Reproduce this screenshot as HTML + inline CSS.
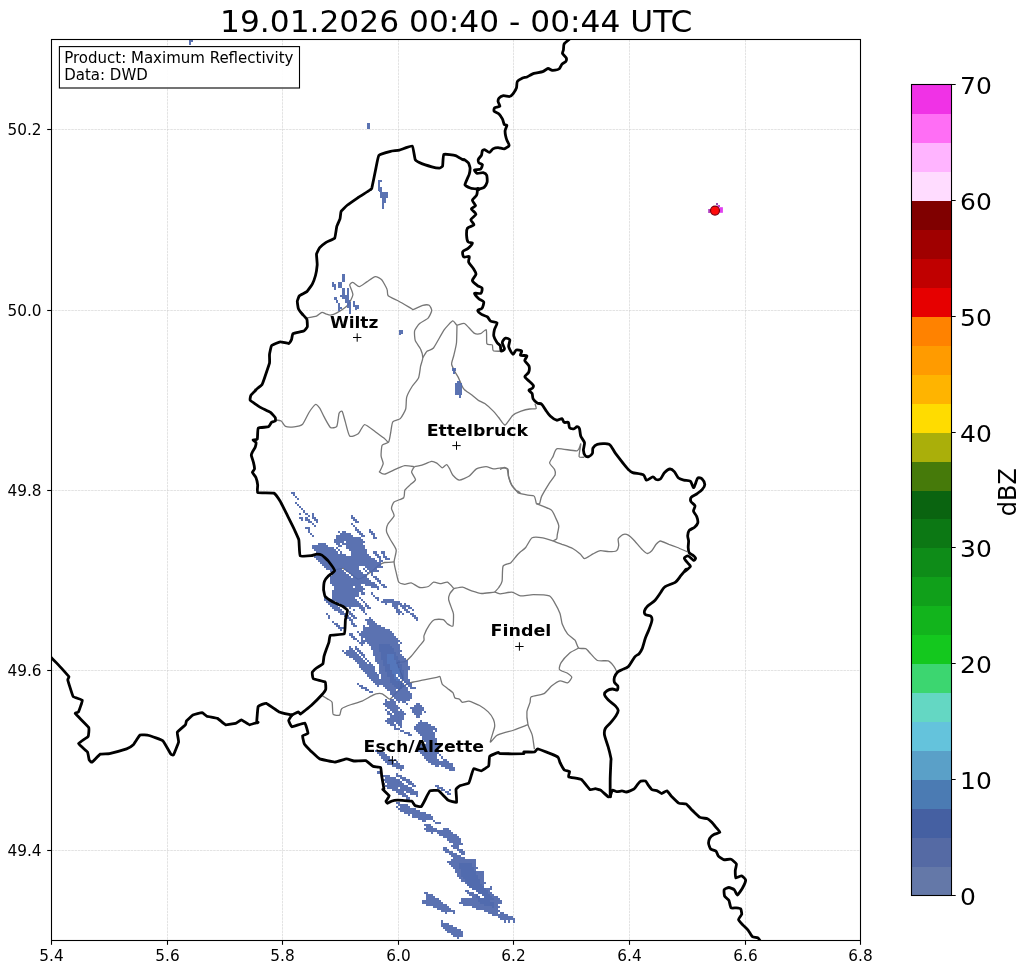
<!DOCTYPE html>
<html><head><meta charset="utf-8"><title>Radar</title>
<style>
html,body{margin:0;padding:0;background:#fff;}
body{width:1029px;height:973px;overflow:hidden;}
svg{display:block;}
text{font-family:"DejaVu Sans","Liberation Sans",sans-serif;fill:#000;}
.tk{font-size:15.3px;}
.cb{font-size:23.8px;}
.city{font-size:16.67px;font-weight:bold;}
</style></head><body>
<svg width="1029" height="973" viewBox="0 0 1029 973">
<rect width="1029" height="973" fill="#fff"/>
<defs><clipPath id="ax"><rect x="51.5" y="39.5" width="809.0" height="901.0"/></clipPath></defs>

<g stroke="#b0b0b0" stroke-width="0.6" stroke-dasharray="2.5,0.8" opacity="0.6" fill="none">
<path d="M167.5,39.5 V940.5"/>
<path d="M282.5,39.5 V940.5"/>
<path d="M398.5,39.5 V940.5"/>
<path d="M513.5,39.5 V940.5"/>
<path d="M629.5,39.5 V940.5"/>
<path d="M745.5,39.5 V940.5"/>
<path d="M51.5,129.5 H860.5"/>
<path d="M51.5,310.5 H860.5"/>
<path d="M51.5,490.5 H860.5"/>
<path d="M51.5,670.5 H860.5"/>
<path d="M51.5,850.5 H860.5"/>
</g>
<g clip-path="url(#ax)" fill="none" stroke="#767676" stroke-width="1.3" stroke-linejoin="round">
<path d="M306.9,317.9C307.9,317.7 315.0,316.7 316.5,316.1C318.0,315.5 320.9,312.5 321.9,312.3C322.9,312.1 325.2,313.7 326.1,314.0C327.0,314.3 329.3,315.2 330.4,315.1C331.5,315.0 335.1,313.9 336.8,312.9C338.5,311.9 345.9,307.3 347.5,305.5C349.1,303.7 352.7,296.8 352.9,294.8C353.1,292.8 349.7,286.3 349.7,285.1C349.7,283.9 351.9,282.2 352.9,282.4C353.9,282.5 357.9,286.7 359.3,286.6C360.7,286.6 365.2,282.9 366.8,281.9C368.4,280.9 373.8,276.8 375.3,276.6C376.8,276.4 380.5,278.5 381.7,279.8C382.9,281.1 386.5,287.8 387.1,289.4C387.8,291.0 387.0,294.6 388.2,295.8C389.4,297.0 396.4,299.9 398.8,301.2C401.2,302.5 410.3,307.9 411.7,308.7C413.1,309.5 412.0,309.9 413.1,309.6C414.2,309.3 421.2,305.7 422.8,305.3C424.4,304.9 428.3,304.8 429.2,305.3C430.1,305.8 431.8,309.3 431.7,310.6C431.6,311.9 429.3,316.8 428.1,318.1C426.9,319.4 421.0,322.2 419.6,323.5C418.2,324.8 415.0,329.2 414.6,330.9C414.2,332.6 414.7,338.8 415.3,340.6C415.9,342.4 419.9,347.4 420.6,349.1C421.4,350.8 422.8,356.0 422.8,357.7C422.8,359.4 421.0,364.2 420.6,366.2C420.2,368.2 419.4,376.0 418.5,378.0C417.6,380.0 413.3,384.6 412.1,386.5C410.9,388.4 407.3,394.9 406.7,397.2C406.1,399.4 406.3,406.9 405.7,409.0C405.1,411.1 401.6,417.3 400.3,418.6C399.0,419.9 393.8,420.4 392.8,421.8C391.8,423.2 391.1,430.5 390.7,432.5C390.3,434.5 389.5,440.8 388.6,442.1C387.7,443.4 382.9,443.9 382.1,445.3C381.4,446.7 381.0,454.2 381.1,456.0C381.2,457.8 383.3,462.0 383.2,463.5C383.1,465.0 380.4,470.1 380.0,471.0C379.6,471.9 379.1,471.8 379.5,472.1C379.9,472.4 383.0,474.4 384.5,474.2C386.0,474.0 392.1,470.8 394.1,469.9C396.1,469.0 402.8,466.0 404.8,465.7C406.8,465.4 413.4,466.6 414.4,466.7"/>
<path d="M422.8,357.7C423.2,357.1 425.9,352.2 427.0,351.2C428.1,350.2 431.8,350.1 433.5,348.0C435.2,345.9 442.2,332.6 444.1,329.9C446.0,327.2 451.4,321.4 452.7,320.9C454.0,320.4 455.8,324.9 457.0,325.2C458.2,325.5 462.8,322.7 464.5,323.5C466.2,324.3 472.5,332.1 474.1,333.1C475.7,334.1 479.3,334.0 480.5,333.7C481.7,333.4 485.7,328.9 486.3,329.9C486.9,330.9 486.3,342.3 486.9,343.8C487.5,345.3 491.7,344.1 492.3,344.8C492.9,345.5 492.3,350.2 493.3,350.8C494.3,351.4 501.0,351.2 501.9,351.2"/>
<path d="M457.0,325.2C456.9,326.9 456.8,339.7 456.5,342.7C456.2,345.7 454.3,353.4 453.8,355.5C453.3,357.6 451.5,362.5 451.6,364.1C451.7,365.7 454.2,370.3 454.8,371.6C455.4,372.9 457.2,375.4 458.0,376.9C458.8,378.4 461.7,385.2 462.3,386.5C462.9,387.8 463.5,388.8 464.5,389.7C465.5,390.6 470.5,394.0 471.9,395.1C473.3,396.2 477.1,399.5 478.4,400.4C479.7,401.2 483.3,402.5 484.8,403.6C486.3,404.7 491.9,409.7 493.3,411.1C494.7,412.5 497.5,416.1 498.7,417.5C499.9,418.9 503.7,425.2 505.1,425.0C506.5,424.8 511.0,416.8 512.6,415.4C514.2,414.0 519.4,411.7 521.1,411.1C522.8,410.5 528.2,409.2 529.7,409.0C531.2,408.8 535.6,409.1 536.1,408.6C536.6,408.1 535.1,404.1 535.0,403.6"/>
<path d="M414.4,466.7C415.1,466.6 420.2,465.7 421.9,465.2C423.6,464.7 430.0,461.6 431.5,461.4C433.0,461.2 435.7,462.5 436.8,463.1C437.9,463.7 441.2,467.7 442.2,467.8C443.2,467.9 445.8,464.5 446.5,464.6C447.2,464.7 449.1,467.8 449.7,468.9C450.3,470.0 451.9,474.2 452.9,475.3C453.9,476.4 457.7,480.1 459.3,480.2C460.9,480.3 467.2,477.4 468.9,476.3C470.6,475.2 474.7,469.9 476.4,468.9C478.1,467.9 484.3,466.7 486.0,466.7C487.7,466.7 492.0,468.8 493.5,468.9C495.0,469.0 499.6,467.8 501.0,467.8C502.4,467.8 506.2,468.0 507.0,468.9C507.8,469.8 508.0,474.7 508.5,476.3C509.0,477.9 510.9,483.5 511.7,484.9C512.5,486.3 515.2,489.4 516.0,490.2C516.8,490.9 519.8,492.1 520.0,492.4C520.2,492.7 517.4,492.6 518.2,492.9C519.0,493.2 526.2,494.8 527.8,495.1C529.4,495.4 533.4,495.2 534.2,496.1C535.1,497.0 536.1,502.9 536.3,503.6"/>
<path d="M500.0,469.4C500.4,469.2 503.5,467.3 504.3,467.3C505.1,467.3 507.7,468.4 508.1,469.4C508.5,470.4 508.2,475.3 508.6,476.9C509.0,478.5 510.8,483.9 511.8,485.5C512.8,487.1 517.6,492.2 518.2,492.9"/>
<path d="M414.4,466.7C414.1,467.2 411.5,470.8 411.6,472.1C411.7,473.4 415.6,478.3 415.5,479.6C415.4,480.9 411.2,483.8 410.1,484.9C409.0,486.0 405.4,488.9 404.8,490.2C404.2,491.5 404.8,496.5 403.7,497.7C402.6,498.9 395.3,500.9 394.1,502.0C392.9,503.1 391.5,507.0 391.5,508.4C391.5,509.8 394.5,514.3 394.1,515.9C393.7,517.5 388.4,522.9 387.7,524.5C386.9,526.1 386.3,530.3 386.6,531.9C386.9,533.5 389.9,538.7 390.9,540.5C391.9,542.3 395.9,548.0 396.2,550.1C396.5,552.2 394.1,559.6 394.1,561.9C394.1,564.1 395.7,570.6 396.2,572.6C396.7,574.6 397.9,581.0 398.8,582.2C399.7,583.4 403.6,584.2 404.8,584.3C406.0,584.4 409.7,582.5 411.2,582.8C412.7,583.1 418.0,587.1 419.7,587.5C421.4,587.9 426.9,587.0 428.3,586.5C429.7,586.0 432.3,582.5 433.6,582.2C434.9,581.9 439.7,583.7 441.1,583.7C442.5,583.7 446.2,581.7 447.5,582.2C448.8,582.7 453.3,588.0 453.9,588.6"/>
<path d="M394.1,561.9C393.1,562.0 386.0,562.2 384.5,562.5C383.0,562.8 380.3,564.3 379.1,565.1C377.9,565.9 374.2,569.2 372.7,570.4C371.2,571.6 365.6,575.9 364.1,576.8C362.6,577.7 359.2,579.4 357.7,579.0C356.2,578.6 350.7,573.7 349.2,572.6C347.7,571.5 344.2,568.6 342.8,568.3C341.4,568.0 336.1,569.8 335.3,570.0"/>
<path d="M453.9,588.6C454.8,588.5 460.8,586.9 462.5,587.1C464.2,587.3 469.1,590.1 471.0,590.7C472.9,591.3 479.3,593.4 481.7,593.5C484.1,593.6 492.8,592.2 494.6,592.2C496.5,592.2 498.5,593.8 500.2,593.8C501.9,593.8 509.9,591.9 511.9,592.1C513.9,592.3 518.4,595.6 520.5,595.9C522.6,596.1 530.4,594.6 533.3,594.6C536.2,594.6 547.3,595.1 549.4,595.9C551.5,596.7 553.6,601.0 554.7,602.8C555.8,604.6 559.2,611.4 560.0,613.5C560.8,615.6 561.5,622.1 562.2,624.1C563.0,626.1 566.2,632.2 567.5,633.8C568.8,635.4 573.9,638.8 575.0,640.2C576.1,641.6 577.5,647.2 578.6,648.1C579.7,649.0 584.5,648.1 585.7,648.7C586.9,649.3 589.8,652.9 591.0,654.1C592.2,655.3 595.8,659.8 597.5,660.5C599.2,661.2 606.6,660.4 608.2,660.9C609.8,661.4 612.6,664.7 613.5,665.8C614.4,666.9 616.7,671.1 616.7,672.3C616.7,673.5 613.8,677.1 613.5,677.6"/>
<path d="M494.6,592.2C495.0,591.7 498.1,588.6 498.8,587.5C499.6,586.4 501.7,583.2 502.1,581.1C502.5,579.0 502.2,567.9 503.1,566.1C504.0,564.3 509.3,563.9 510.6,562.9C511.9,561.9 515.1,557.6 516.0,556.5C516.9,555.4 519.0,553.2 520.0,552.3C521.0,551.4 524.5,549.0 525.7,547.5C526.9,546.0 530.4,538.8 532.1,537.8C533.8,536.8 540.7,537.5 542.8,537.8C544.9,538.1 552.4,540.7 553.5,541.0"/>
<path d="M536.3,503.6C536.6,503.6 539.1,504.4 539.6,503.6C540.1,502.9 540.7,498.1 541.7,496.1C542.7,494.1 547.9,485.4 549.2,483.3C550.6,481.2 554.7,476.2 555.2,474.8C555.7,473.4 555.1,470.6 554.5,469.4C553.9,468.2 549.8,464.3 549.6,463.0C549.5,461.7 552.2,458.0 553.0,456.6C553.8,455.2 554.9,449.3 557.3,448.7C559.7,448.1 574.6,451.3 577.0,450.8C579.4,450.3 580.6,443.2 580.8,443.8C581.0,444.4 578.7,455.3 579.1,456.6C579.5,457.9 584.0,457.1 584.5,457.2"/>
<path d="M536.3,503.6C537.8,504.2 549.3,508.5 551.3,510.0C553.3,511.5 555.2,517.0 556.0,518.6C556.8,520.2 558.7,524.5 558.8,526.1C558.9,527.7 557.5,533.3 557.3,534.6C557.1,535.9 557.1,538.3 556.7,538.9C556.3,539.5 553.0,540.5 553.5,541.0C554.0,541.5 560.1,543.5 562.0,544.3C563.9,545.0 570.9,547.5 572.7,548.5C574.5,549.5 579.0,552.9 580.2,553.9C581.4,554.9 583.2,558.6 584.5,558.6C585.8,558.6 591.4,554.7 593.0,553.9C594.6,553.1 598.9,550.9 600.5,550.7C602.1,550.5 607.4,551.7 609.0,551.7C610.6,551.7 615.5,551.3 616.5,550.7C617.5,550.1 618.5,546.5 618.7,545.3C618.9,544.1 617.8,540.0 618.2,538.9C618.6,537.8 621.9,535.0 622.9,534.6C623.9,534.2 627.1,534.5 628.3,535.1C629.5,535.7 633.3,539.5 634.7,541.0C636.1,542.5 640.9,548.4 642.2,549.6C643.5,550.9 646.5,553.4 647.5,553.5C648.5,553.6 650.9,551.6 651.8,550.7C652.7,549.8 655.2,545.3 656.1,544.3C657.0,543.3 659.1,541.0 660.4,541.0C661.7,541.0 667.2,543.6 668.9,544.3C670.6,544.9 675.7,546.8 677.5,547.5C679.3,548.2 686.1,551.3 687.1,551.7"/>
<path d="M453.9,588.6C453.5,589.1 450.2,592.8 449.7,593.9C449.2,595.0 448.4,597.8 448.6,599.3C448.8,600.8 451.3,607.4 451.8,608.9C452.3,610.4 453.4,612.6 453.5,614.3C453.6,616.0 453.5,625.0 452.9,626.0C452.3,627.0 448.5,624.5 447.5,623.9C446.5,623.3 444.6,620.0 443.3,619.6C442.0,619.2 436.1,619.1 434.7,619.6C433.3,620.1 430.5,623.3 429.4,624.9C428.3,626.5 424.5,634.1 424.0,635.6C423.5,637.1 424.4,639.3 424.0,640.3C423.6,641.3 421.0,644.1 419.7,645.7C418.4,647.3 412.7,654.7 411.2,656.3C409.7,657.9 406.2,661.1 404.8,661.7C403.4,662.4 397.8,662.0 397.3,662.8C396.8,663.5 398.9,667.7 399.4,669.2C399.9,670.7 402.5,675.8 402.6,677.7C402.7,679.6 400.7,687.3 400.5,688.4"/>
<path d="M322.5,695.9C323.0,696.2 326.8,698.5 327.8,699.1C328.8,699.7 331.6,700.8 332.1,702.3C332.6,703.8 332.4,712.8 333.1,714.1C333.9,715.4 338.7,715.6 339.6,715.1C340.5,714.6 340.5,709.8 341.7,708.7C342.9,707.6 349.3,705.2 351.3,704.5C353.3,703.8 360.0,702.1 362.0,701.2C364.0,700.3 370.2,696.6 371.6,695.9C373.0,695.2 374.8,694.0 375.9,693.8C377.0,693.6 380.9,693.3 382.3,693.8C383.7,694.3 388.4,699.2 389.8,699.1C391.2,699.0 395.1,693.8 396.2,692.7C397.3,691.6 399.4,689.3 400.5,688.4C401.6,687.5 405.6,684.7 406.9,684.1C408.2,683.5 411.6,682.4 413.3,682.0C415.0,681.6 421.6,680.4 424.0,679.9C426.4,679.4 435.2,677.6 436.8,677.3C438.4,677.0 439.5,676.0 440.0,676.7C440.5,677.4 441.4,682.9 442.2,684.1C442.9,685.3 446.4,687.5 447.5,688.4C448.6,689.3 452.1,691.7 452.9,692.7C453.6,693.7 454.4,697.4 455.0,698.0C455.6,698.6 458.6,698.7 459.3,699.1C460.1,699.5 461.5,702.1 462.5,702.3C463.5,702.5 467.2,700.9 468.9,701.2C470.6,701.5 477.7,704.4 479.6,705.5C481.5,706.6 486.8,710.5 488.2,711.9C489.6,713.3 492.9,717.9 493.5,719.4C494.1,720.9 494.9,724.6 494.6,726.9C494.3,729.1 490.1,741.0 490.3,741.9C490.5,742.8 495.2,736.5 496.7,735.5C498.2,734.5 503.6,732.8 505.3,732.3C507.0,731.8 511.8,730.8 514.1,730.0C516.4,729.2 526.6,725.1 528.0,724.6"/>
<path d="M578.6,648.1C577.7,648.6 571.5,651.5 569.7,653.0C568.0,654.5 562.1,661.0 561.1,662.6C560.1,664.2 558.8,668.4 559.4,669.5C560.0,670.6 566.3,672.5 567.5,673.3C568.7,674.1 571.8,676.2 571.8,677.2C571.8,678.2 568.7,682.5 567.5,682.9C566.3,683.3 561.6,680.5 560.0,680.8C558.4,681.1 553.1,684.8 551.5,686.1C549.9,687.4 546.0,692.5 544.0,693.6C542.0,694.7 532.6,695.9 531.2,696.8C529.8,697.7 530.5,700.7 530.1,702.2C529.7,703.7 527.1,709.6 526.9,711.8C526.7,714.0 527.5,722.2 528.0,724.6C528.5,727.0 531.7,732.8 532.3,735.3C532.9,737.8 534.2,747.8 534.4,749.2"/>
<path d="M275.3,419.9C275.9,420.0 280.2,420.4 281.2,421.0C282.2,421.6 284.2,425.7 285.5,426.3C286.8,426.9 292.4,427.0 294.1,426.8C295.8,426.6 301.1,425.6 302.6,424.2C304.1,422.8 307.7,414.5 309.0,412.5C310.3,410.5 314.4,404.9 315.5,404.5C316.6,404.1 318.8,407.0 319.7,408.2C320.6,409.4 322.9,414.8 324.0,416.7C325.1,418.6 329.1,426.4 330.4,427.4C331.7,428.4 335.9,427.7 336.8,426.3C337.7,424.9 338.5,415.0 339.0,413.5C339.5,412.0 341.6,410.5 342.2,411.4C342.8,412.3 344.6,419.6 345.4,422.1C346.1,424.6 348.4,434.8 349.7,436.0C351.0,437.2 356.7,434.9 358.2,433.8C359.7,432.7 362.9,424.8 364.6,424.6C366.3,424.4 373.4,430.3 375.3,431.7C377.2,433.1 382.6,437.0 383.9,438.1C385.2,439.2 387.8,442.0 388.2,442.4"/>
</g>
<g clip-path="url(#ax)" shape-rendering="crispEdges" opacity="0.93">
<path fill="#4f68ac" d="M291.10,492.00h4.10v2.05h-4.10zM293.15,494.05h2.05v2.05h-2.05zM295.20,496.10h2.05v2.05h-2.05zM297.25,498.15h2.05v2.05h-2.05zM295.20,502.25h2.05v2.05h-2.05zM297.25,504.30h2.05v2.05h-2.05zM299.30,506.35h2.05v2.05h-2.05zM301.35,508.40h2.05v2.05h-2.05zM303.40,510.45h2.05v2.05h-2.05zM299.30,512.50h2.05v2.05h-2.05zM305.45,512.50h2.05v2.05h-2.05zM311.60,512.50h2.05v2.05h-2.05zM307.50,514.55h2.05v2.05h-2.05zM311.60,514.55h2.05v2.05h-2.05zM350.55,514.55h2.05v2.05h-2.05zM299.30,516.60h4.10v2.05h-4.10zM305.45,516.60h2.05v2.05h-2.05zM311.60,516.60h4.10v2.05h-4.10zM350.55,516.60h4.10v2.05h-4.10zM301.35,518.65h2.05v2.05h-2.05zM305.45,518.65h4.10v2.05h-4.10zM313.65,518.65h4.10v2.05h-4.10zM352.60,518.65h4.10v2.05h-4.10zM307.50,520.70h4.10v2.05h-4.10zM315.70,520.70h2.05v2.05h-2.05zM354.65,520.70h4.10v2.05h-4.10zM311.60,522.75h2.05v2.05h-2.05zM350.55,522.75h2.05v2.05h-2.05zM313.65,524.80h2.05v2.05h-2.05zM352.60,524.80h2.05v2.05h-2.05zM305.45,526.85h4.10v2.05h-4.10zM354.65,526.85h2.05v2.05h-2.05zM307.50,528.90h2.05v2.05h-2.05zM354.65,528.90h4.10v2.05h-4.10zM369.00,528.90h2.05v2.05h-2.05zM307.50,530.95h2.05v2.05h-2.05zM338.25,530.95h2.05v2.05h-2.05zM342.35,530.95h4.10v2.05h-4.10zM356.70,530.95h4.10v2.05h-4.10zM369.00,530.95h4.10v2.05h-4.10zM309.55,533.00h2.05v2.05h-2.05zM340.30,533.00h10.25v2.05h-10.25zM358.75,533.00h4.10v2.05h-4.10zM371.05,533.00h4.10v2.05h-4.10zM311.60,535.05h2.05v2.05h-2.05zM336.20,535.05h16.40v2.05h-16.40zM360.80,535.05h4.10v2.05h-4.10zM373.10,535.05h2.05v2.05h-2.05zM336.20,537.10h24.60v2.05h-24.60zM373.10,537.10h4.10v2.05h-4.10zM334.15,539.15h28.70v2.05h-28.70zM334.15,541.20h10.25v2.05h-10.25zM346.45,541.20h18.45v2.05h-18.45zM317.75,543.25h8.20v2.05h-8.20zM336.20,543.25h4.10v2.05h-4.10zM342.35,543.25h20.50v2.05h-20.50zM311.60,545.30h16.40v2.05h-16.40zM338.25,545.30h4.10v2.05h-4.10zM346.45,545.30h18.45v2.05h-18.45zM311.60,547.35h22.55v2.05h-22.55zM336.20,547.35h2.05v2.05h-2.05zM346.45,547.35h18.45v2.05h-18.45zM313.65,549.40h22.55v2.05h-22.55zM338.25,549.40h2.05v2.05h-2.05zM348.50,549.40h18.45v2.05h-18.45zM315.70,551.45h22.55v2.05h-22.55zM340.30,551.45h2.05v2.05h-2.05zM350.55,551.45h16.40v2.05h-16.40zM373.10,551.45h4.10v2.05h-4.10zM381.30,551.45h4.10v2.05h-4.10zM313.65,553.50h32.80v2.05h-32.80zM350.55,553.50h18.45v2.05h-18.45zM375.15,553.50h4.10v2.05h-4.10zM383.35,553.50h2.05v2.05h-2.05zM313.65,555.55h57.40v2.05h-57.40zM377.20,555.55h4.10v2.05h-4.10zM383.35,555.55h4.10v2.05h-4.10zM315.70,557.60h59.45v2.05h-59.45zM379.25,557.60h2.05v2.05h-2.05zM385.40,557.60h4.10v2.05h-4.10zM317.75,559.65h59.45v2.05h-59.45zM379.25,559.65h4.10v2.05h-4.10zM319.80,561.70h61.50v2.05h-61.50zM321.85,563.75h59.45v2.05h-59.45zM323.90,565.80h34.85v2.05h-34.85zM364.90,565.80h18.45v2.05h-18.45zM325.95,567.85h16.40v2.05h-16.40zM344.40,567.85h14.35v2.05h-14.35zM362.85,567.85h2.05v2.05h-2.05zM366.95,567.85h10.25v2.05h-10.25zM330.05,569.90h14.35v2.05h-14.35zM346.45,569.90h14.35v2.05h-14.35zM364.90,569.90h2.05v2.05h-2.05zM369.00,569.90h10.25v2.05h-10.25zM332.10,571.95h14.35v2.05h-14.35zM348.50,571.95h14.35v2.05h-14.35zM366.95,571.95h2.05v2.05h-2.05zM371.05,571.95h2.05v2.05h-2.05zM332.10,574.00h16.40v2.05h-16.40zM350.55,574.00h16.40v2.05h-16.40zM371.05,574.00h2.05v2.05h-2.05zM330.05,576.05h20.50v2.05h-20.50zM352.60,576.05h14.35v2.05h-14.35zM373.10,576.05h4.10v2.05h-4.10zM330.05,578.10h38.95v2.05h-38.95zM375.15,578.10h4.10v2.05h-4.10zM330.05,580.15h41.00v2.05h-41.00zM377.20,580.15h4.10v2.05h-4.10zM330.05,582.20h45.10v2.05h-45.10zM379.25,582.20h2.05v2.05h-2.05zM332.10,584.25h28.70v2.05h-28.70zM364.90,584.25h12.30v2.05h-12.30zM381.30,584.25h4.10v2.05h-4.10zM334.15,586.30h18.45v2.05h-18.45zM354.65,586.30h8.20v2.05h-8.20zM371.05,586.30h8.20v2.05h-8.20zM383.35,586.30h4.10v2.05h-4.10zM334.15,588.35h30.75v2.05h-30.75zM377.20,588.35h2.05v2.05h-2.05zM332.10,590.40h30.75v2.05h-30.75zM332.10,592.45h26.65v2.05h-26.65zM360.80,592.45h4.10v2.05h-4.10zM371.05,592.45h2.05v2.05h-2.05zM332.10,594.50h26.65v2.05h-26.65zM373.10,594.50h2.05v2.05h-2.05zM323.90,596.55h2.05v2.05h-2.05zM332.10,596.55h22.55v2.05h-22.55zM358.75,596.55h2.05v2.05h-2.05zM375.15,596.55h4.10v2.05h-4.10zM323.90,598.60h32.80v2.05h-32.80zM360.80,598.60h2.05v2.05h-2.05zM377.20,598.60h2.05v2.05h-2.05zM383.35,598.60h10.25v2.05h-10.25zM325.95,600.65h8.20v2.05h-8.20zM336.20,600.65h22.55v2.05h-22.55zM362.85,600.65h2.05v2.05h-2.05zM381.30,600.65h18.45v2.05h-18.45zM328.00,602.70h8.20v2.05h-8.20zM340.30,602.70h20.50v2.05h-20.50zM364.90,602.70h2.05v2.05h-2.05zM385.40,602.70h2.05v2.05h-2.05zM391.55,602.70h10.25v2.05h-10.25zM403.85,602.70h2.05v2.05h-2.05zM330.05,604.75h8.20v2.05h-8.20zM342.35,604.75h20.50v2.05h-20.50zM364.90,604.75h4.10v2.05h-4.10zM391.55,604.75h6.15v2.05h-6.15zM399.75,604.75h10.25v2.05h-10.25zM332.10,606.80h8.20v2.05h-8.20zM348.50,606.80h2.05v2.05h-2.05zM358.75,606.80h6.15v2.05h-6.15zM366.95,606.80h4.10v2.05h-4.10zM393.60,606.80h4.10v2.05h-4.10zM401.80,606.80h4.10v2.05h-4.10zM407.95,606.80h4.10v2.05h-4.10zM334.15,608.85h8.20v2.05h-8.20zM352.60,608.85h2.05v2.05h-2.05zM360.80,608.85h4.10v2.05h-4.10zM395.65,608.85h4.10v2.05h-4.10zM403.85,608.85h4.10v2.05h-4.10zM412.05,608.85h2.05v2.05h-2.05zM338.25,610.90h6.15v2.05h-6.15zM348.50,610.90h2.05v2.05h-2.05zM362.85,610.90h2.05v2.05h-2.05zM395.65,610.90h6.15v2.05h-6.15zM405.90,610.90h4.10v2.05h-4.10zM325.95,612.95h2.05v2.05h-2.05zM340.30,612.95h6.15v2.05h-6.15zM348.50,612.95h4.10v2.05h-4.10zM364.90,612.95h2.05v2.05h-2.05zM397.70,612.95h2.05v2.05h-2.05zM401.80,612.95h2.05v2.05h-2.05zM410.00,612.95h4.10v2.05h-4.10zM328.00,615.00h2.05v2.05h-2.05zM344.40,615.00h4.10v2.05h-4.10zM350.55,615.00h4.10v2.05h-4.10zM412.05,615.00h4.10v2.05h-4.10zM328.00,617.05h2.05v2.05h-2.05zM346.45,617.05h4.10v2.05h-4.10zM352.60,617.05h4.10v2.05h-4.10zM369.00,617.05h2.05v2.05h-2.05zM414.10,617.05h4.10v2.05h-4.10zM348.50,619.10h4.10v2.05h-4.10zM364.90,619.10h8.20v2.05h-8.20zM416.15,619.10h2.05v2.05h-2.05zM332.10,621.15h2.05v2.05h-2.05zM350.55,621.15h2.05v2.05h-2.05zM366.95,621.15h8.20v2.05h-8.20zM334.15,623.20h4.10v2.05h-4.10zM350.55,623.20h4.10v2.05h-4.10zM366.95,623.20h10.25v2.05h-10.25zM336.20,625.25h4.10v2.05h-4.10zM352.60,625.25h4.10v2.05h-4.10zM362.85,625.25h2.05v2.05h-2.05zM369.00,625.25h12.30v2.05h-12.30zM338.25,627.30h6.15v2.05h-6.15zM362.85,627.30h22.55v2.05h-22.55zM340.30,629.35h2.05v2.05h-2.05zM362.85,629.35h26.65v2.05h-26.65zM356.70,631.40h2.05v2.05h-2.05zM360.80,631.40h30.75v2.05h-30.75zM348.50,633.45h4.10v2.05h-4.10zM358.75,633.45h34.85v2.05h-34.85zM350.55,635.50h4.10v2.05h-4.10zM360.80,635.50h34.85v2.05h-34.85zM352.60,637.55h4.10v2.05h-4.10zM360.80,637.55h2.05v2.05h-2.05zM364.90,637.55h32.80v2.05h-32.80zM356.70,639.60h2.05v2.05h-2.05zM360.80,639.60h38.95v2.05h-38.95zM358.75,641.65h6.15v2.05h-6.15zM366.95,641.65h30.75v2.05h-30.75zM399.75,641.65h2.05v2.05h-2.05zM360.80,643.70h2.05v2.05h-2.05zM369.00,643.70h10.25v2.05h-10.25zM389.50,643.70h10.25v2.05h-10.25zM348.50,645.75h2.05v2.05h-2.05zM354.65,645.75h2.05v2.05h-2.05zM371.05,645.75h8.20v2.05h-8.20zM391.55,645.75h8.20v2.05h-8.20zM348.50,647.80h4.10v2.05h-4.10zM354.65,647.80h4.10v2.05h-4.10zM371.05,647.80h8.20v2.05h-8.20zM393.60,647.80h6.15v2.05h-6.15zM342.35,649.85h2.05v2.05h-2.05zM346.45,649.85h8.20v2.05h-8.20zM356.70,649.85h4.10v2.05h-4.10zM373.10,649.85h6.15v2.05h-6.15zM393.60,649.85h8.20v2.05h-8.20zM344.40,651.90h12.30v2.05h-12.30zM358.75,651.90h4.10v2.05h-4.10zM373.10,651.90h8.20v2.05h-8.20zM395.65,651.90h4.10v2.05h-4.10zM346.45,653.95h12.30v2.05h-12.30zM360.80,653.95h4.10v2.05h-4.10zM373.10,653.95h8.20v2.05h-8.20zM395.65,653.95h6.15v2.05h-6.15zM348.50,656.00h12.30v2.05h-12.30zM362.85,656.00h2.05v2.05h-2.05zM375.15,656.00h6.15v2.05h-6.15zM397.70,656.00h6.15v2.05h-6.15zM352.60,658.05h10.25v2.05h-10.25zM364.90,658.05h2.05v2.05h-2.05zM375.15,658.05h6.15v2.05h-6.15zM397.70,658.05h8.20v2.05h-8.20zM354.65,660.10h10.25v2.05h-10.25zM366.95,660.10h2.05v2.05h-2.05zM375.15,660.10h8.20v2.05h-8.20zM399.75,660.10h8.20v2.05h-8.20zM356.70,662.15h10.25v2.05h-10.25zM369.00,662.15h2.05v2.05h-2.05zM377.20,662.15h6.15v2.05h-6.15zM399.75,662.15h8.20v2.05h-8.20zM358.75,664.20h14.35v2.05h-14.35zM379.25,664.20h4.10v2.05h-4.10zM401.80,664.20h6.15v2.05h-6.15zM358.75,666.25h16.40v2.05h-16.40zM379.25,666.25h6.15v2.05h-6.15zM401.80,666.25h8.20v2.05h-8.20zM360.80,668.30h14.35v2.05h-14.35zM379.25,668.30h6.15v2.05h-6.15zM401.80,668.30h8.20v2.05h-8.20zM362.85,670.35h12.30v2.05h-12.30zM379.25,670.35h6.15v2.05h-6.15zM403.85,670.35h4.10v2.05h-4.10zM364.90,672.40h12.30v2.05h-12.30zM379.25,672.40h8.20v2.05h-8.20zM403.85,672.40h4.10v2.05h-4.10zM366.95,674.45h12.30v2.05h-12.30zM381.30,674.45h6.15v2.05h-6.15zM403.85,674.45h4.10v2.05h-4.10zM369.00,676.50h10.25v2.05h-10.25zM381.30,676.50h8.20v2.05h-8.20zM403.85,676.50h4.10v2.05h-4.10zM371.05,678.55h18.45v2.05h-18.45zM403.85,678.55h6.15v2.05h-6.15zM373.10,680.60h16.40v2.05h-16.40zM405.90,680.60h4.10v2.05h-4.10zM356.70,682.65h2.05v2.05h-2.05zM375.15,682.65h16.40v2.05h-16.40zM405.90,682.65h6.15v2.05h-6.15zM358.75,684.70h4.10v2.05h-4.10zM377.20,684.70h2.05v2.05h-2.05zM383.35,684.70h10.25v2.05h-10.25zM403.85,684.70h2.05v2.05h-2.05zM407.95,684.70h4.10v2.05h-4.10zM360.80,686.75h6.15v2.05h-6.15zM385.40,686.75h10.25v2.05h-10.25zM401.80,686.75h6.15v2.05h-6.15zM410.00,686.75h6.15v2.05h-6.15zM364.90,688.80h4.10v2.05h-4.10zM387.45,688.80h8.20v2.05h-8.20zM399.75,688.80h8.20v2.05h-8.20zM369.00,690.85h4.10v2.05h-4.10zM389.50,690.85h20.50v2.05h-20.50zM389.50,692.90h22.55v2.05h-22.55zM391.55,694.95h20.50v2.05h-20.50zM393.60,697.00h18.45v2.05h-18.45zM385.40,699.05h2.05v2.05h-2.05zM389.50,699.05h4.10v2.05h-4.10zM395.65,699.05h14.35v2.05h-14.35zM385.40,701.10h10.25v2.05h-10.25zM397.70,701.10h2.05v2.05h-2.05zM401.80,701.10h4.10v2.05h-4.10zM383.35,703.15h12.30v2.05h-12.30zM405.90,703.15h2.05v2.05h-2.05zM416.15,703.15h4.10v2.05h-4.10zM385.40,705.20h12.30v2.05h-12.30zM414.10,705.20h8.20v2.05h-8.20zM387.45,707.25h12.30v2.05h-12.30zM410.00,707.25h14.35v2.05h-14.35zM385.40,709.30h2.05v2.05h-2.05zM389.50,709.30h8.20v2.05h-8.20zM399.75,709.30h2.05v2.05h-2.05zM412.05,709.30h12.30v2.05h-12.30zM387.45,711.35h2.05v2.05h-2.05zM391.55,711.35h12.30v2.05h-12.30zM412.05,711.35h10.25v2.05h-10.25zM424.35,711.35h2.05v2.05h-2.05zM387.45,713.40h4.10v2.05h-4.10zM393.60,713.40h12.30v2.05h-12.30zM414.10,713.40h8.20v2.05h-8.20zM389.50,715.45h14.35v2.05h-14.35zM416.15,715.45h4.10v2.05h-4.10zM387.45,717.50h16.40v2.05h-16.40zM385.40,719.55h16.40v2.05h-16.40zM420.25,719.55h2.05v2.05h-2.05zM387.45,721.60h6.15v2.05h-6.15zM395.65,721.60h6.15v2.05h-6.15zM418.20,721.60h10.25v2.05h-10.25zM389.50,723.65h6.15v2.05h-6.15zM397.70,723.65h4.10v2.05h-4.10zM416.15,723.65h14.35v2.05h-14.35zM393.60,725.70h2.05v2.05h-2.05zM399.75,725.70h2.05v2.05h-2.05zM414.10,725.70h20.50v2.05h-20.50zM393.60,727.75h6.15v2.05h-6.15zM414.10,727.75h22.55v2.05h-22.55zM399.75,729.80h4.10v2.05h-4.10zM416.15,729.80h16.40v2.05h-16.40zM434.60,729.80h2.05v2.05h-2.05zM403.85,731.85h6.15v2.05h-6.15zM418.20,731.85h16.40v2.05h-16.40zM407.95,733.90h4.10v2.05h-4.10zM420.25,733.90h14.35v2.05h-14.35zM422.30,735.95h12.30v2.05h-12.30zM422.30,738.00h14.35v2.05h-14.35zM424.35,740.05h12.30v2.05h-12.30zM422.30,742.10h2.05v2.05h-2.05zM426.40,742.10h10.25v2.05h-10.25zM420.25,744.15h18.45v2.05h-18.45zM418.20,746.20h20.50v2.05h-20.50zM420.25,748.25h18.45v2.05h-18.45zM375.15,750.30h8.20v2.05h-8.20zM418.20,750.30h20.50v2.05h-20.50zM377.20,752.35h8.20v2.05h-8.20zM420.25,752.35h18.45v2.05h-18.45zM379.25,754.40h8.20v2.05h-8.20zM422.30,754.40h14.35v2.05h-14.35zM438.70,754.40h2.05v2.05h-2.05zM381.30,756.45h8.20v2.05h-8.20zM424.35,756.45h12.30v2.05h-12.30zM440.75,756.45h2.05v2.05h-2.05zM383.35,758.50h8.20v2.05h-8.20zM393.60,758.50h2.05v2.05h-2.05zM426.40,758.50h12.30v2.05h-12.30zM442.80,758.50h4.10v2.05h-4.10zM385.40,760.55h8.20v2.05h-8.20zM395.65,760.55h2.05v2.05h-2.05zM428.45,760.55h20.50v2.05h-20.50zM387.45,762.60h12.30v2.05h-12.30zM430.50,762.60h22.55v2.05h-22.55zM391.55,764.65h12.30v2.05h-12.30zM434.60,764.65h4.10v2.05h-4.10zM440.75,764.65h12.30v2.05h-12.30zM395.65,766.70h8.20v2.05h-8.20zM444.85,766.70h10.25v2.05h-10.25zM399.75,768.75h2.05v2.05h-2.05zM448.95,768.75h6.15v2.05h-6.15zM395.65,772.85h2.05v2.05h-2.05zM383.35,774.90h6.15v2.05h-6.15zM395.65,774.90h6.15v2.05h-6.15zM385.40,776.95h10.25v2.05h-10.25zM399.75,776.95h6.15v2.05h-6.15zM383.35,779.00h16.40v2.05h-16.40zM401.80,779.00h8.20v2.05h-8.20zM385.40,781.05h16.40v2.05h-16.40zM405.90,781.05h6.15v2.05h-6.15zM383.35,783.10h2.05v2.05h-2.05zM387.45,783.10h16.40v2.05h-16.40zM407.95,783.10h6.15v2.05h-6.15zM385.40,785.15h22.55v2.05h-22.55zM412.05,785.15h4.10v2.05h-4.10zM434.60,785.15h4.10v2.05h-4.10zM387.45,787.20h10.25v2.05h-10.25zM399.75,787.20h12.30v2.05h-12.30zM436.65,787.20h6.15v2.05h-6.15zM391.55,789.25h22.55v2.05h-22.55zM440.75,789.25h4.10v2.05h-4.10zM448.95,789.25h2.05v2.05h-2.05zM395.65,791.30h8.20v2.05h-8.20zM405.90,791.30h12.30v2.05h-12.30zM444.85,791.30h4.10v2.05h-4.10zM397.70,793.35h8.20v2.05h-8.20zM410.00,793.35h8.20v2.05h-8.20zM446.90,793.35h4.10v2.05h-4.10zM401.80,795.40h6.15v2.05h-6.15zM416.15,795.40h2.05v2.05h-2.05zM405.90,797.45h4.10v2.05h-4.10zM395.65,801.55h4.10v2.05h-4.10zM397.70,803.60h10.25v2.05h-10.25zM395.65,805.65h2.05v2.05h-2.05zM399.75,805.65h10.25v2.05h-10.25zM397.70,807.70h18.45v2.05h-18.45zM399.75,809.75h20.50v2.05h-20.50zM403.85,811.80h22.55v2.05h-22.55zM407.95,813.85h2.05v2.05h-2.05zM412.05,813.85h18.45v2.05h-18.45zM412.05,815.90h20.50v2.05h-20.50zM418.20,817.95h14.35v2.05h-14.35zM422.30,820.00h4.10v2.05h-4.10zM432.55,820.00h2.05v2.05h-2.05zM434.60,822.05h6.15v2.05h-6.15zM424.35,824.10h6.15v2.05h-6.15zM426.40,826.15h6.15v2.05h-6.15zM424.35,828.20h12.30v2.05h-12.30zM442.80,828.20h6.15v2.05h-6.15zM426.40,830.25h24.60v2.05h-24.60zM430.50,832.30h2.05v2.05h-2.05zM436.65,832.30h16.40v2.05h-16.40zM438.70,834.35h18.45v2.05h-18.45zM442.80,836.40h16.40v2.05h-16.40zM446.90,838.45h14.35v2.05h-14.35zM448.95,840.50h12.30v2.05h-12.30zM453.05,842.55h10.25v2.05h-10.25zM451.00,844.60h8.20v2.05h-8.20zM442.80,846.65h4.10v2.05h-4.10zM453.05,846.65h6.15v2.05h-6.15zM442.80,848.70h6.15v2.05h-6.15zM457.15,848.70h6.15v2.05h-6.15zM444.85,850.75h8.20v2.05h-8.20zM459.20,850.75h6.15v2.05h-6.15zM448.95,852.80h8.20v2.05h-8.20zM461.25,852.80h4.10v2.05h-4.10zM451.00,854.85h10.25v2.05h-10.25zM453.05,856.90h12.30v2.05h-12.30zM451.00,858.95h24.60v2.05h-24.60zM446.90,861.00h28.70v2.05h-28.70zM448.95,863.05h10.25v2.05h-10.25zM471.50,863.05h4.10v2.05h-4.10zM451.00,865.10h8.20v2.05h-8.20zM471.50,865.10h4.10v2.05h-4.10zM453.05,867.15h6.15v2.05h-6.15zM473.55,867.15h4.10v2.05h-4.10zM455.10,869.20h6.15v2.05h-6.15zM473.55,869.20h2.05v2.05h-2.05zM455.10,871.25h6.15v2.05h-6.15zM475.60,871.25h8.20v2.05h-8.20zM457.15,873.30h4.10v2.05h-4.10zM475.60,873.30h8.20v2.05h-8.20zM457.15,875.35h4.10v2.05h-4.10zM477.65,875.35h6.15v2.05h-6.15zM459.20,877.40h4.10v2.05h-4.10zM477.65,877.40h6.15v2.05h-6.15zM461.25,879.45h4.10v2.05h-4.10zM479.70,879.45h4.10v2.05h-4.10zM465.35,881.50h2.05v2.05h-2.05zM479.70,881.50h6.15v2.05h-6.15zM481.75,883.55h2.05v2.05h-2.05zM489.95,885.60h2.05v2.05h-2.05zM485.85,887.65h6.15v2.05h-6.15zM465.35,889.70h4.10v2.05h-4.10zM487.90,889.70h2.05v2.05h-2.05zM424.35,891.75h4.10v2.05h-4.10zM467.40,891.75h6.15v2.05h-6.15zM487.90,891.75h4.10v2.05h-4.10zM426.40,893.80h6.15v2.05h-6.15zM469.45,893.80h6.15v2.05h-6.15zM489.95,893.80h4.10v2.05h-4.10zM426.40,895.85h8.20v2.05h-8.20zM471.50,895.85h4.10v2.05h-4.10zM492.00,895.85h6.15v2.05h-6.15zM426.40,897.90h12.30v2.05h-12.30zM461.25,897.90h16.40v2.05h-16.40zM494.05,897.90h6.15v2.05h-6.15zM422.30,899.95h18.45v2.05h-18.45zM461.25,899.95h16.40v2.05h-16.40zM489.95,899.95h12.30v2.05h-12.30zM422.30,902.00h20.50v2.05h-20.50zM459.20,902.00h20.50v2.05h-20.50zM494.05,902.00h8.20v2.05h-8.20zM426.40,904.05h20.50v2.05h-20.50zM463.30,904.05h20.50v2.05h-20.50zM494.05,904.05h4.10v2.05h-4.10zM432.55,906.10h16.40v2.05h-16.40zM471.50,906.10h20.50v2.05h-20.50zM494.05,906.10h6.15v2.05h-6.15zM436.65,908.15h14.35v2.05h-14.35zM475.60,908.15h22.55v2.05h-22.55zM440.75,910.20h14.35v2.05h-14.35zM483.80,910.20h16.40v2.05h-16.40zM444.85,912.25h2.05v2.05h-2.05zM453.05,912.25h2.05v2.05h-2.05zM487.90,912.25h10.25v2.05h-10.25zM500.20,912.25h4.10v2.05h-4.10zM492.00,914.30h16.40v2.05h-16.40zM498.15,916.35h14.35v2.05h-14.35zM500.20,918.40h14.35v2.05h-14.35zM440.75,920.45h2.05v2.05h-2.05zM504.30,920.45h2.05v2.05h-2.05zM508.40,920.45h2.05v2.05h-2.05zM512.50,920.45h2.05v2.05h-2.05zM440.75,922.50h8.20v2.05h-8.20zM440.75,924.55h12.30v2.05h-12.30zM442.80,926.60h14.35v2.05h-14.35zM444.85,928.65h16.40v2.05h-16.40zM446.90,930.70h16.40v2.05h-16.40zM451.00,932.75h12.30v2.05h-12.30zM453.05,934.80h10.25v2.05h-10.25zM457.15,936.85h2.05v2.05h-2.05zM367.18,122.99h2.60v6.44h-2.60zM378.25,180.06h2.03v11.30h-2.03zM380.28,180.06h1.58v1.69h-1.58zM379.15,186.84h3.05v4.75h-3.05zM380.28,191.92h7.57v5.65h-7.57zM382.20,197.57h3.73v5.08h-3.73zM382.20,202.66h1.69v5.88h-1.69zM342.31,273.75h2.62v7.87h-2.62zM332.25,282.06h1.75v4.81h-1.75zM334.00,284.25h1.92v5.25h-1.92zM338.20,282.06h3.67v5.51h-3.67zM342.31,288.18h2.62v10.50h-2.62zM346.68,288.18h2.19v11.81h-2.19zM340.30,295.18h2.45v1.75h-2.45zM344.93,295.18h3.94v7.44h-3.94zM334.17,297.20h3.32v3.24h-3.32zM336.19,300.00h2.01v3.06h-2.01zM338.20,303.06h1.92v8.31h-1.92zM340.12,306.99h1.75v1.75h-1.75zM347.12,300.00h3.06v7.87h-3.06zM349.31,301.75h1.75v12.25h-1.75zM352.81,301.31h2.01v5.69h-2.01zM354.56,304.81h2.19v4.37h-2.19zM356.75,305.24h1.75v3.50h-1.75zM355.00,309.18h1.75v1.31h-1.75zM399.18,330.18h3.76v3.50h-3.76zM399.18,333.68h1.75v1.75h-1.75zM451.63,367.93h4.28v2.57h-4.28zM453.34,370.49h1.92v3.63h-1.92zM455.26,383.32h7.06v11.76h-7.06zM458.68,395.08h2.14v3.21h-2.14zM456.97,381.18h2.57v2.57h-2.57zM188.50,40.00h2.10v5.00h-2.10zM190.60,40.00h2.00v2.00h-2.00zM377.03,770.85h2.81v3.52h-2.81z"/>
<path fill="#4460a8" d="M379.25,643.70h10.25v2.05h-10.25zM379.25,645.75h12.30v2.05h-12.30zM379.25,647.80h14.35v2.05h-14.35zM379.25,649.85h14.35v2.05h-14.35zM381.30,651.90h14.35v2.05h-14.35zM381.30,653.95h6.15v2.05h-6.15zM393.60,653.95h2.05v2.05h-2.05zM381.30,656.00h6.15v2.05h-6.15zM393.60,656.00h4.10v2.05h-4.10zM381.30,658.05h6.15v2.05h-6.15zM393.60,658.05h4.10v2.05h-4.10zM383.35,660.10h4.10v2.05h-4.10zM395.65,660.10h4.10v2.05h-4.10zM383.35,662.15h4.10v2.05h-4.10zM395.65,662.15h4.10v2.05h-4.10zM383.35,664.20h6.15v2.05h-6.15zM397.70,664.20h4.10v2.05h-4.10zM385.40,666.25h4.10v2.05h-4.10zM397.70,666.25h4.10v2.05h-4.10zM385.40,668.30h4.10v2.05h-4.10zM399.75,668.30h2.05v2.05h-2.05zM385.40,670.35h6.15v2.05h-6.15zM399.75,670.35h4.10v2.05h-4.10zM387.45,672.40h4.10v2.05h-4.10zM399.75,672.40h4.10v2.05h-4.10zM387.45,674.45h6.15v2.05h-6.15zM399.75,674.45h4.10v2.05h-4.10zM389.50,676.50h4.10v2.05h-4.10zM399.75,676.50h4.10v2.05h-4.10zM389.50,678.55h6.15v2.05h-6.15zM401.80,678.55h2.05v2.05h-2.05zM389.50,680.60h12.30v2.05h-12.30zM403.85,680.60h2.05v2.05h-2.05zM391.55,682.65h12.30v2.05h-12.30zM393.60,684.70h10.25v2.05h-10.25zM395.65,686.75h6.15v2.05h-6.15zM397.70,688.80h2.05v2.05h-2.05zM459.20,863.05h12.30v2.05h-12.30zM459.20,865.10h12.30v2.05h-12.30zM459.20,867.15h14.35v2.05h-14.35zM461.25,869.20h12.30v2.05h-12.30zM461.25,871.25h14.35v2.05h-14.35zM461.25,873.30h14.35v2.05h-14.35zM461.25,875.35h16.40v2.05h-16.40zM463.30,877.40h14.35v2.05h-14.35zM465.35,879.45h14.35v2.05h-14.35zM467.40,881.50h12.30v2.05h-12.30zM467.40,883.55h14.35v2.05h-14.35zM469.45,885.60h14.35v2.05h-14.35zM471.50,887.65h14.35v2.05h-14.35zM475.60,889.70h12.30v2.05h-12.30zM477.65,891.75h10.25v2.05h-10.25zM475.60,893.80h2.05v2.05h-2.05zM481.75,893.80h8.20v2.05h-8.20zM475.60,895.85h4.10v2.05h-4.10zM483.80,895.85h8.20v2.05h-8.20zM477.65,897.90h16.40v2.05h-16.40zM477.65,899.95h12.30v2.05h-12.30zM479.70,902.00h14.35v2.05h-14.35zM483.80,904.05h10.25v2.05h-10.25zM492.00,906.10h2.05v2.05h-2.05z"/>
<path fill="#486cb6" d="M387.45,653.95h6.15v2.05h-6.15zM387.45,656.00h6.15v2.05h-6.15zM387.45,658.05h6.15v2.05h-6.15zM387.45,660.10h8.20v2.05h-8.20zM387.45,662.15h8.20v2.05h-8.20zM389.50,664.20h8.20v2.05h-8.20zM389.50,666.25h8.20v2.05h-8.20zM389.50,668.30h10.25v2.05h-10.25zM391.55,670.35h8.20v2.05h-8.20zM391.55,672.40h8.20v2.05h-8.20zM393.60,674.45h2.05v2.05h-2.05zM397.70,674.45h2.05v2.05h-2.05zM393.60,676.50h4.10v2.05h-4.10zM395.65,678.55h4.10v2.05h-4.10z"/>
</g>
<g clip-path="url(#ax)"><rect x="708.2" y="209" width="2.2" height="4" fill="#b040c0"/><rect x="719.5" y="207.2" width="3.4" height="5.6" fill="#e040f0"/><rect x="716" y="203" width="2" height="2" fill="#9050b0"/><rect x="717.5" y="205" width="2.5" height="2.2" fill="#c040d0"/><circle cx="715.0" cy="210.6" r="4.5" fill="#ff0a0a" stroke="#7a0010" stroke-width="1.2"/></g>
<g clip-path="url(#ax)" fill="none" stroke="#000" stroke-width="2.8" stroke-linejoin="round" stroke-linecap="round">
<path d="M569.0,39.6C568.5,40.0 564.7,43.0 564.1,44.0C563.5,45.0 563.6,49.1 563.4,50.1C563.2,51.1 562.2,52.8 562.5,53.6C562.8,54.4 566.0,57.2 566.3,58.0C566.6,58.8 566.2,60.9 565.8,61.5C565.4,62.1 562.6,63.4 562.0,64.1C561.4,64.8 560.0,68.2 559.3,68.8C558.6,69.4 555.8,70.1 555.0,70.2C554.2,70.3 552.2,70.4 551.5,70.2C550.8,70.0 548.9,68.4 548.0,68.5C547.1,68.6 544.1,71.1 542.7,71.6C541.3,72.1 535.6,72.9 534.0,73.4C532.4,73.9 528.1,76.4 527.0,76.9C525.9,77.4 523.6,77.6 522.6,78.1C521.6,78.6 517.9,80.6 517.3,81.6C516.7,82.6 516.9,86.5 516.5,87.7C516.1,88.9 513.7,92.9 513.0,93.8C512.3,94.7 510.5,96.3 509.5,96.5C508.5,96.7 504.4,95.4 503.4,95.6C502.3,95.8 499.5,97.6 499.0,98.2C498.5,98.8 498.0,100.9 498.1,101.7C498.2,102.5 500.2,105.5 499.9,106.1C499.5,106.7 495.2,107.3 494.6,107.8C494.0,108.3 493.7,110.7 494.1,111.3C494.5,111.9 498.2,113.2 499.0,114.0C499.8,114.8 502.0,118.2 502.5,119.2C503.0,120.2 503.8,123.9 504.2,124.5C504.6,125.1 506.8,124.7 506.9,125.3C507.0,125.9 505.2,129.5 505.1,130.6C505.0,131.7 505.4,134.8 505.6,135.8C505.8,136.8 506.5,139.2 506.9,140.2C507.2,141.2 509.4,144.6 509.1,145.5C508.8,146.4 505.3,148.7 504.2,148.9C503.1,149.1 499.2,147.6 498.1,147.6C497.0,147.6 493.8,148.4 492.9,148.9C492.0,149.4 490.2,152.3 489.4,152.4C488.6,152.5 485.7,150.0 485.0,149.8C484.3,149.6 482.8,150.2 482.4,150.7C482.0,151.2 481.9,154.2 481.5,155.1C481.1,156.0 478.6,158.6 478.3,159.4C478.0,160.2 478.5,162.4 478.9,162.9C479.3,163.4 482.2,164.1 482.4,164.7C482.6,165.3 481.4,168.6 480.6,169.1C479.8,169.6 474.9,169.5 474.5,169.9C474.1,170.3 476.2,173.1 477.1,173.4C478.0,173.7 482.2,172.4 483.2,172.6C484.2,172.8 486.3,174.2 486.7,175.2C487.1,176.2 487.4,181.0 487.1,182.2C486.8,183.4 484.9,186.7 484.1,187.4C483.3,188.1 479.4,189.0 478.9,189.2"/>
<path d="M478.9,189.2C478.7,189.1 478.0,187.8 477.7,188.6C477.4,189.4 477.4,193.4 476.7,195.0C476.0,196.6 472.5,198.9 472.4,200.3C472.3,201.7 475.7,204.6 475.6,205.7C475.5,206.8 471.2,207.8 471.3,208.9C471.4,210.0 476.1,212.8 476.0,214.2C475.9,215.6 471.2,218.2 470.9,219.6C470.6,221.0 474.4,223.8 473.9,224.9C473.4,226.0 468.5,226.7 467.5,228.1C466.5,229.5 466.5,233.7 466.6,235.6C466.7,237.5 467.3,241.0 468.1,242.0C468.9,243.0 472.4,242.2 472.4,243.1C472.4,244.0 469.4,247.3 468.1,248.4C466.8,249.5 463.4,250.5 462.8,251.6C462.2,252.7 462.9,256.3 463.8,257.0C464.7,257.7 468.5,255.8 469.2,256.5C469.9,257.2 468.1,260.7 468.7,262.3C469.3,263.9 472.5,267.1 473.5,268.7C474.5,270.3 476.1,272.5 476.0,274.1C475.9,275.7 472.2,278.9 472.4,280.5C472.6,282.1 476.4,284.8 477.7,285.8C479.0,286.8 481.6,287.0 482.0,288.0C482.4,289.0 481.9,292.6 480.9,293.3C479.9,294.0 474.8,292.6 474.5,293.3C474.2,294.0 477.6,297.6 478.8,298.7C480.0,299.8 483.3,300.6 483.7,301.9C484.1,303.2 482.8,307.2 482.0,308.3C481.2,309.4 477.7,309.5 477.7,310.4C477.7,311.3 480.7,313.8 482.0,314.7C483.3,315.6 486.3,315.9 487.4,316.8C488.5,317.7 489.3,320.3 490.6,321.1C491.9,321.9 496.5,321.7 497.0,322.8C497.5,323.9 494.8,327.9 494.4,329.7C494.0,331.5 493.5,334.4 493.8,336.1C494.1,337.8 496.1,341.2 497.0,342.5C497.9,343.8 499.6,344.6 500.2,345.7C500.8,346.8 500.6,350.6 501.2,351.0C501.8,351.4 504.4,350.0 504.5,348.9C504.6,347.8 502.2,343.9 502.3,342.5C502.4,341.1 504.5,338.5 505.5,338.2C506.5,337.9 509.4,338.8 509.8,339.9C510.2,341.0 508.3,344.9 508.7,346.8C509.1,348.7 512.0,353.9 513.0,354.3C514.0,354.7 515.1,350.4 516.2,350.0C517.3,349.6 521.0,350.3 521.6,351.0C522.2,351.7 519.8,354.7 520.5,355.3C521.2,355.9 526.3,355.1 526.9,355.8C527.5,356.5 524.5,359.3 524.8,360.7C525.1,362.1 528.5,364.4 529.0,366.0C529.5,367.6 529.2,371.0 528.6,372.4C528.0,373.8 524.7,375.6 524.8,376.7C524.9,377.8 527.9,379.9 529.0,381.0C530.1,382.1 532.8,384.3 533.3,385.3C533.8,386.3 533.1,387.5 532.5,388.2C531.9,388.9 529.0,389.6 528.9,390.3C528.8,391.0 531.5,392.4 532.1,393.5C532.7,394.6 532.4,397.6 533.1,398.9C533.8,400.2 536.3,402.4 537.4,403.1C538.5,403.8 540.6,403.2 541.7,404.2C542.8,405.2 544.9,409.0 546.0,410.6C547.1,412.2 548.8,414.7 550.2,416.0C551.6,417.3 555.1,419.8 556.7,420.2C558.3,420.6 561.0,418.4 562.0,418.7C563.0,419.0 563.2,421.9 564.1,422.4C565.0,422.9 567.7,421.7 568.4,422.4C569.1,423.1 568.8,426.8 569.5,427.7C570.2,428.6 572.8,428.9 573.8,428.8C574.8,428.7 576.2,426.7 577.0,426.7C577.8,426.7 579.0,427.5 579.5,428.8C580.0,430.1 580.1,434.4 580.8,436.3C581.5,438.2 584.2,440.8 584.5,442.7C584.8,444.6 583.3,448.5 583.4,450.2C583.5,451.9 584.4,454.6 585.1,455.5C585.8,456.4 587.7,456.9 588.7,456.6C589.7,456.3 591.8,454.5 592.4,453.4C593.0,452.3 592.3,449.2 593.0,448.0C593.7,446.8 595.2,444.9 597.3,444.4C599.4,443.9 606.6,443.0 609.0,444.2C611.4,445.4 613.6,450.9 615.5,453.4C617.4,455.9 621.2,460.9 622.9,463.0C624.6,465.1 627.0,468.1 628.3,469.4C629.6,470.7 630.6,471.9 632.6,472.6C634.6,473.3 641.4,473.8 643.3,474.8C645.2,475.8 645.2,479.8 646.5,480.1C647.8,480.4 651.6,477.0 652.9,476.9C654.2,476.8 655.1,479.2 656.1,479.5C657.1,479.8 659.3,479.9 660.4,479.0C661.5,478.1 663.3,473.9 664.6,472.6C665.9,471.3 668.7,469.1 670.0,469.0C671.3,468.9 673.2,470.4 674.3,471.6C675.4,472.8 677.2,476.9 678.5,478.0C679.8,479.1 682.3,479.7 683.9,480.1C685.5,480.5 689.0,480.2 690.3,481.2C691.6,482.2 692.8,487.3 693.5,487.6C694.2,487.9 695.0,484.6 695.6,483.3C696.2,482.0 696.9,478.6 697.8,478.0C698.7,477.4 701.2,478.1 702.1,479.0C703.0,479.9 704.8,483.0 704.8,484.4C704.8,485.8 703.2,488.4 702.1,489.7C701.0,491.0 698.1,493.0 696.7,494.0C695.3,495.0 692.2,496.2 691.4,497.2C690.6,498.2 690.4,500.4 690.9,501.5C691.4,502.6 694.7,504.5 695.0,505.8C695.3,507.1 693.3,509.7 693.5,511.1C693.7,512.5 696.1,514.9 696.7,516.5C697.3,518.1 698.1,521.5 697.8,522.9C697.5,524.3 695.7,526.2 694.6,527.2C693.5,528.2 690.1,529.3 689.2,530.4C688.3,531.5 687.8,534.3 687.7,535.7C687.6,537.1 688.5,539.4 688.6,541.0C688.7,542.6 688.1,545.9 688.2,547.5C688.3,549.1 688.6,551.8 689.2,552.8C689.8,553.8 691.5,554.2 692.4,554.9C693.3,555.6 695.5,557.5 695.6,558.2C695.7,558.9 694.5,560.6 693.5,560.3C692.5,560.0 689.4,556.3 688.2,556.0C687.0,555.7 684.3,557.2 684.3,558.2C684.3,559.2 687.4,562.4 688.2,563.5C689.0,564.6 690.9,565.6 690.3,566.7C689.7,567.8 684.5,571.8 683.9,572.1C683.3,572.4 686.5,568.7 686.1,569.2C685.7,569.7 682.2,574.0 680.8,575.7C679.4,577.4 677.6,580.6 675.5,582.1C673.4,583.6 666.8,585.4 664.8,586.8C662.8,588.2 661.8,591.0 660.5,592.8C659.2,594.6 656.8,598.4 655.1,600.2C653.4,602.0 649.1,604.6 647.7,606.0C646.3,607.4 644.8,609.8 644.5,610.9C644.2,612.0 644.6,613.9 645.5,614.6C646.4,615.3 650.0,615.5 650.9,616.3C651.8,617.1 652.2,618.7 651.9,620.6C651.6,622.5 649.6,627.9 648.7,630.2C647.8,632.5 646.4,635.3 645.5,637.7C644.6,640.1 643.2,646.3 642.3,648.4C641.4,650.5 640.1,652.6 639.1,653.7C638.1,654.8 636.2,655.2 634.8,656.9C633.4,658.6 630.1,664.8 628.4,666.5C626.7,668.2 623.4,669.0 622.0,669.7C620.6,670.4 618.7,670.9 617.7,671.9C616.7,672.9 614.9,675.8 614.5,677.2C614.1,678.6 614.1,681.5 614.5,682.6C614.9,683.7 617.3,684.8 617.7,685.8C618.1,686.8 618.0,689.6 617.3,690.0C616.6,690.4 613.8,688.9 612.4,689.0C611.0,689.1 608.1,690.0 607.0,690.7C605.9,691.4 604.4,693.1 604.5,694.3C604.6,695.5 606.6,698.1 608.1,699.7C609.6,701.3 614.3,704.7 615.6,706.1C616.9,707.5 618.1,709.1 618.2,710.4C618.3,711.7 617.1,714.0 616.0,715.7C614.9,717.4 611.6,721.5 610.2,723.2C608.8,724.9 606.1,726.9 605.3,728.5C604.5,730.1 604.1,732.5 604.5,734.9C604.9,737.3 607.2,743.6 608.1,746.7C609.0,749.8 610.5,756.0 610.9,758.0C611.3,760.0 611.0,758.7 610.9,761.4C610.8,764.1 610.3,773.8 610.2,778.5C610.1,783.2 610.2,794.3 610.2,796.7"/>
<path d="M610.2,796.7C610.4,796.2 611.9,790.6 612.4,790.2C612.9,789.8 615.9,791.6 616.7,791.7C617.5,791.8 621.2,790.9 622.0,790.9C622.8,790.9 625.3,792.1 626.3,792.0C627.3,791.9 632.8,789.9 633.8,789.2C634.8,788.5 637.4,784.5 638.0,783.8C638.6,783.1 640.2,781.3 640.8,781.1C641.4,780.9 644.9,780.8 645.5,781.1C646.1,781.4 647.6,784.2 648.1,784.9C648.6,785.6 651.1,789.1 651.9,789.6C652.7,790.1 656.5,790.6 657.3,790.9C658.1,791.2 660.8,793.5 661.6,793.5C662.4,793.5 666.1,790.7 666.9,790.9C667.7,791.1 670.2,795.0 671.2,796.0C672.2,797.0 677.5,802.4 678.7,803.1C679.9,803.8 684.9,803.5 686.1,804.1C687.3,804.7 691.4,809.5 692.6,810.6C693.8,811.7 698.8,816.7 700.0,817.4C701.2,818.1 706.5,818.3 707.5,818.7C708.5,819.1 711.0,821.5 711.8,822.3C712.6,823.1 716.5,827.9 717.2,828.7C717.9,829.5 720.2,831.9 719.9,832.4C719.6,832.9 714.8,834.0 713.9,834.5C713.0,835.0 710.1,837.6 709.7,838.4C709.3,839.2 708.5,842.8 708.6,843.7C708.7,844.6 710.1,848.4 710.7,849.0C711.3,849.6 715.5,850.6 716.1,851.2C716.7,851.8 717.6,855.2 718.2,855.9C718.8,856.6 722.5,859.4 723.6,859.7C724.7,860.0 729.9,858.9 731.0,859.3C732.1,859.7 736.0,863.1 736.4,864.0C736.8,864.9 735.3,869.2 735.3,870.4C735.2,871.6 735.3,877.4 735.8,877.9C736.3,878.4 740.9,875.6 741.7,875.8C742.5,876.0 745.5,879.0 745.6,880.0C745.7,881.0 743.5,886.2 742.8,887.5C742.1,888.8 738.2,894.8 737.5,895.0C736.8,895.2 735.0,890.3 734.3,889.7C733.6,889.1 729.7,887.5 728.9,887.5C728.1,887.5 724.6,889.0 724.2,889.7C723.8,890.4 724.2,895.2 724.6,896.1C725.0,897.0 728.4,899.4 728.9,900.4C729.4,901.4 730.4,907.2 731.0,907.8C731.6,908.4 735.6,907.7 736.4,907.8C737.2,907.9 740.3,908.4 740.7,908.9C741.1,909.4 741.9,913.4 741.7,914.3C741.5,915.2 738.4,918.7 738.5,919.6C738.6,920.5 742.0,924.0 742.8,924.9C743.6,925.8 747.4,929.3 748.2,930.3C749.0,931.3 751.6,936.1 752.4,936.7C753.2,937.3 757.1,937.3 757.8,937.8C758.5,938.2 760.7,941.7 761.0,942.1"/>
<path d="M610.2,796.7C610.1,796.7 608.6,797.0 608.1,796.7C607.6,796.4 601.2,790.6 600.6,790.2C600.0,789.8 595.8,788.7 595.3,788.7C594.8,788.7 590.6,790.1 589.9,789.6C589.2,789.1 582.5,780.2 581.4,779.6C580.3,779.0 569.2,777.2 568.6,776.8C568.0,776.4 569.8,771.9 569.6,771.6C569.4,771.3 564.8,770.4 564.3,769.9C563.8,769.4 560.3,763.1 560.0,762.5C559.7,761.9 558.6,757.8 558.2,757.4C557.8,757.0 552.7,754.5 551.7,754.1C550.7,753.7 538.7,748.9 537.8,748.8C536.9,748.7 535.3,751.8 534.6,752.0C533.9,752.2 524.5,751.9 523.9,752.0C523.3,752.1 524.7,753.6 523.5,753.7C522.3,753.8 501.7,753.8 500.4,753.7C499.1,753.6 498.8,752.3 498.3,752.4C497.8,752.5 490.2,755.6 489.7,756.3C489.2,757.0 489.1,765.2 488.7,765.9C488.3,766.6 481.9,770.7 481.2,770.8C480.4,770.9 474.2,768.5 473.7,768.7C473.2,768.9 471.8,773.8 471.6,774.5C471.4,775.2 469.4,782.4 468.8,783.0C468.2,783.6 460.4,785.5 459.8,785.8C459.2,786.1 456.2,788.6 456.0,789.4C455.8,790.2 457.0,801.8 456.6,802.3C456.2,802.8 448.9,800.7 448.0,800.1C447.1,799.5 439.3,791.0 438.4,790.5C437.5,790.0 430.5,790.5 429.9,790.9C429.3,791.3 426.4,797.2 426.0,798.0C425.6,798.8 421.9,806.1 421.3,806.5C420.7,806.9 415.4,805.8 414.9,805.5C414.4,805.2 412.6,801.5 411.7,801.2C410.8,800.9 398.8,800.1 397.8,800.1C396.8,800.1 391.9,801.0 391.4,801.2C390.9,801.4 387.8,803.3 387.5,803.3C387.2,803.3 385.9,801.6 386.0,801.2C386.1,800.8 389.4,796.4 389.2,795.8C389.0,795.2 383.1,789.8 382.8,789.4C382.5,789.0 384.0,789.5 383.9,788.8C383.8,788.1 381.9,777.1 381.7,776.0C381.5,774.9 381.1,768.0 380.7,767.5C380.3,767.0 373.9,766.7 373.2,766.4C372.4,766.1 366.7,760.9 365.7,760.6C364.7,760.3 354.9,761.1 353.9,761.0C352.9,760.9 347.5,758.8 346.5,758.9C345.5,759.0 336.0,762.1 334.7,762.1C333.4,762.1 320.9,759.4 319.7,758.9C318.5,758.4 312.0,752.1 311.2,751.4C310.4,750.6 304.7,744.7 304.3,743.9C303.9,743.1 302.4,736.3 302.6,735.8C302.8,735.3 307.9,733.9 308.0,733.3C308.1,732.7 305.6,723.3 304.8,723.0C304.0,722.7 292.7,726.9 291.9,726.8C291.1,726.7 288.7,721.0 288.7,720.4C288.7,719.8 291.7,715.4 291.9,715.1"/>
<path d="M291.9,715.1C292.3,714.9 297.9,712.0 298.4,711.9C298.9,711.8 299.8,714.4 300.5,714.0C301.2,713.6 310.0,706.6 311.2,705.5C312.4,704.4 321.1,695.7 321.9,694.8C322.7,693.9 325.5,690.2 325.7,689.4C325.9,688.6 325.8,682.5 325.1,681.9C324.4,681.3 314.0,679.3 313.3,678.7C312.6,678.1 312.1,672.9 312.3,672.3C312.5,671.7 315.9,668.5 316.5,668.0C317.1,667.5 322.5,664.5 322.9,663.8C323.3,663.1 323.8,657.1 324.0,656.3C324.2,655.5 325.8,650.7 326.1,649.9C326.4,649.1 328.6,643.3 328.9,642.4C329.2,641.5 329.5,635.8 330.4,635.3C331.3,634.8 343.4,634.7 344.3,633.8C345.2,632.9 345.2,621.3 345.4,619.9C345.6,618.5 347.7,611.1 347.5,610.3C347.3,609.5 343.1,606.5 342.2,606.0C341.3,605.5 333.6,602.4 332.6,601.8C331.6,601.2 325.6,597.1 325.1,596.4C324.6,595.7 323.7,590.4 323.6,590.0C323.5,589.6 323.6,590.4 323.6,589.9C323.6,589.4 324.1,582.2 324.4,581.4C324.7,580.6 327.7,576.6 328.3,576.0C328.9,575.4 334.7,571.6 334.7,570.7C334.7,569.8 329.0,561.9 328.3,561.0C327.6,560.1 322.6,555.5 321.9,555.1C321.2,554.7 317.1,554.2 316.5,554.2C315.9,554.2 312.2,555.6 311.2,555.7C310.2,555.8 300.8,556.6 300.1,555.7C299.4,554.8 299.2,541.3 298.8,539.7C298.4,538.1 294.7,530.4 294.1,529.0C293.5,527.6 288.5,517.7 287.7,516.1C286.9,514.5 281.0,502.5 280.2,501.2C279.4,499.9 275.1,493.6 273.8,493.1C272.5,492.6 258.6,493.1 257.7,492.6C256.8,492.1 257.8,486.0 257.7,485.1C257.6,484.2 256.3,478.4 256.0,477.7C255.7,477.0 252.5,472.8 252.4,472.3C252.3,471.8 254.4,469.7 254.5,469.1C254.6,468.5 253.7,463.5 253.5,462.7C253.3,461.9 251.4,455.8 251.3,455.2C251.2,454.6 252.2,452.5 252.4,452.0C252.6,451.5 255.0,447.9 255.2,447.3C255.4,446.7 256.1,442.8 256.0,442.4C255.9,442.0 252.9,440.4 253.0,440.2C253.1,440.0 257.0,439.9 257.3,439.2C257.6,438.5 257.6,428.8 258.2,428.1C258.8,427.4 267.6,427.2 268.4,426.8C269.2,426.4 271.2,422.4 271.6,422.1C272.0,421.8 275.1,421.3 275.3,421.0C275.5,420.7 275.6,418.3 275.3,417.8C275.0,417.3 271.5,413.1 270.6,412.5C269.7,411.9 261.1,407.8 259.9,407.1C258.7,406.4 250.7,401.0 250.2,400.3C249.7,399.6 250.6,395.9 250.9,395.3C251.2,394.7 255.7,390.3 256.0,390.0C256.3,389.7 255.2,390.2 255.6,389.9C255.9,389.6 261.4,385.4 262.0,384.6C262.6,383.8 264.8,377.2 265.2,376.0C265.6,374.8 269.2,364.4 269.5,363.2C269.8,362.0 269.4,355.6 269.5,354.6C269.6,353.6 271.0,346.4 271.6,345.7C272.2,345.0 279.2,341.9 280.2,341.8C281.2,341.7 288.0,343.6 288.7,343.5C289.4,343.4 291.2,340.3 291.5,339.7C291.8,339.1 292.3,334.2 293.0,333.7C293.7,333.2 302.9,331.5 303.7,331.1C304.5,330.7 307.1,327.5 307.3,326.8C307.5,326.1 307.2,320.1 306.9,319.4C306.6,318.7 302.7,314.6 302.2,314.0C301.7,313.4 298.7,309.4 298.4,308.7C298.1,308.0 297.2,302.0 297.3,301.2C297.4,300.4 298.8,296.4 299.4,295.8C300.0,295.2 306.1,292.3 306.9,291.6C307.7,290.9 311.8,285.0 312.3,284.1C312.8,283.2 315.2,276.6 315.5,275.5C315.8,274.4 317.1,266.0 317.2,264.8C317.3,263.6 316.4,255.1 316.5,254.1C316.6,253.1 319.1,248.4 319.7,247.7C320.3,247.0 325.2,243.0 326.1,242.4C327.0,241.8 334.1,239.0 334.7,238.1C335.3,237.2 336.5,227.4 336.8,226.3C337.1,225.2 339.7,219.8 340.0,218.9C340.3,218.0 340.7,212.2 341.1,211.4C341.5,210.6 346.5,205.8 347.5,205.0C348.5,204.2 356.9,198.4 358.2,197.5C359.5,196.6 369.2,190.6 370.0,190.0C370.8,189.4 371.6,189.0 371.9,187.8C372.2,186.6 375.2,171.7 375.6,169.8C376.0,167.9 378.0,156.4 378.9,155.3C379.8,154.2 389.4,151.6 390.6,151.3C391.8,151.0 398.1,150.4 399.4,150.1C400.7,149.8 411.4,145.5 412.3,146.1C413.2,146.7 414.7,158.8 415.3,159.8C415.9,160.8 420.8,163.2 421.8,163.6C422.8,164.0 430.8,166.5 431.8,166.8C432.8,167.1 438.7,168.1 439.3,168.1C439.9,168.1 442.3,166.9 442.6,166.1C442.9,165.3 443.0,154.9 443.8,154.3C444.6,153.7 454.5,155.3 455.6,155.6C456.7,155.9 462.5,159.6 463.0,159.8C463.5,160.0 463.7,159.2 464.0,159.4C464.3,159.6 468.0,162.4 468.4,162.9C468.8,163.4 470.1,167.5 470.1,168.2C470.1,168.9 469.5,173.3 469.2,174.3C468.9,175.3 464.8,184.0 464.9,184.8C465.0,185.6 470.2,188.0 471.0,188.3C471.8,188.6 478.4,189.1 478.9,189.2"/>
<path d="M291.9,715.1C291.3,714.9 280.4,712.5 279.1,711.9C277.8,711.3 267.3,703.6 266.3,703.3C265.3,703.0 258.7,705.5 258.2,706.5C257.7,707.5 256.7,721.8 256.7,722.6C256.7,723.4 258.5,722.1 258.1,722.2C257.7,722.3 250.3,724.9 249.5,724.8C248.7,724.7 242.1,720.0 241.4,719.9C240.7,719.8 236.4,723.1 235.6,723.3C234.8,723.5 226.5,725.0 225.6,724.8C224.7,724.6 218.4,718.8 217.5,718.4C216.6,718.0 207.6,716.5 206.8,716.2C206.0,715.9 202.8,712.7 202.1,712.6C201.4,712.5 193.7,714.7 192.9,715.1C192.1,715.5 186.9,720.4 186.5,720.9C186.1,721.4 185.9,724.2 185.4,724.8C184.9,725.4 177.6,731.4 177.3,732.3C177.0,733.2 178.8,740.8 178.6,741.9C178.4,743.0 174.0,754.1 173.6,754.7C173.2,755.3 171.4,755.0 170.9,754.3C170.4,753.6 164.0,741.7 162.9,740.8C161.8,739.9 150.1,735.8 149.0,735.5C147.9,735.2 140.9,734.5 140.1,735.0C139.3,735.5 133.7,744.4 133.0,745.1C132.3,745.8 127.8,748.5 126.6,748.9C125.4,749.3 110.8,753.3 109.5,753.6C108.2,753.9 101.2,753.7 100.3,754.1C99.4,754.5 92.6,761.9 92.0,762.2C91.4,762.5 89.4,760.5 89.2,760.0C89.0,759.5 88.0,752.9 87.5,752.1C87.0,751.3 78.5,744.4 78.5,743.6C78.5,742.8 87.6,737.3 88.1,736.5C88.6,735.7 89.3,728.6 88.7,727.5C88.1,726.4 75.8,714.4 75.3,713.6C74.8,712.8 78.2,712.6 78.5,711.9C78.8,711.2 82.6,701.0 82.3,700.2C82.0,699.4 73.8,697.5 73.1,696.5C72.4,695.5 68.0,680.9 67.8,679.9C67.6,678.9 69.2,677.3 68.9,676.7C68.6,676.1 62.3,669.1 61.4,668.1C60.5,667.1 51.2,657.4 50.7,656.8"/>
</g>
<path d="M353.0,337.5h8.4M357.2,333.3v8.4" stroke="#000" stroke-width="1.0" fill="none"/>
<text class="city" transform="translate(329.9,327.6) scale(1.022,1)">Wiltz</text>
<path d="M452.3,445.6h8.4M456.5,441.4v8.4" stroke="#000" stroke-width="1.0" fill="none"/>
<text class="city" transform="translate(426.7,435.8) scale(1.043,1)">Ettelbruck</text>
<path d="M515.2,646.5h8.4M519.4,642.3v8.4" stroke="#000" stroke-width="1.0" fill="none"/>
<text class="city" transform="translate(490.6,636.4) scale(1.05,1)">Findel</text>
<path d="M388.2,760.3h8.4M392.4,756.1v8.4" stroke="#000" stroke-width="1.0" fill="none"/>
<text class="city" transform="translate(363.6,751.5) scale(1.038,1)">Esch/Alzette</text>
<rect x="59.4" y="46.6" width="240.1" height="41.4" fill="#fff" fill-opacity="0.9" stroke="#000" stroke-width="1.1"/>
<text x="64.2" y="62.8" font-size="15px">Product: Maximum Reflectivity</text>
<text x="64.2" y="79.6" font-size="15px">Data: DWD</text>
<rect x="51.5" y="39.5" width="809.0" height="901.0" fill="none" stroke="#000" stroke-width="1.1"/>
<g stroke="#000" stroke-width="1.1">
<path d="M51.5,940.5 v4.3"/>
<path d="M167.5,940.5 v4.3"/>
<path d="M282.5,940.5 v4.3"/>
<path d="M398.5,940.5 v4.3"/>
<path d="M513.5,940.5 v4.3"/>
<path d="M629.5,940.5 v4.3"/>
<path d="M745.5,940.5 v4.3"/>
<path d="M860.5,940.5 v4.3"/>
<path d="M51.5,129.5 h-4.3"/>
<path d="M51.5,310.5 h-4.3"/>
<path d="M51.5,490.5 h-4.3"/>
<path d="M51.5,670.5 h-4.3"/>
<path d="M51.5,850.5 h-4.3"/>
</g>
<text class="tk" x="51.5" y="960.7" text-anchor="middle">5.4</text>
<text class="tk" x="167.5" y="960.7" text-anchor="middle">5.6</text>
<text class="tk" x="282.5" y="960.7" text-anchor="middle">5.8</text>
<text class="tk" x="398.5" y="960.7" text-anchor="middle">6.0</text>
<text class="tk" x="513.5" y="960.7" text-anchor="middle">6.2</text>
<text class="tk" x="629.5" y="960.7" text-anchor="middle">6.4</text>
<text class="tk" x="745.5" y="960.7" text-anchor="middle">6.6</text>
<text class="tk" x="860.5" y="960.7" text-anchor="middle">6.8</text>
<text class="tk" x="41.6" y="135.0" text-anchor="end">50.2</text>
<text class="tk" x="41.6" y="316.0" text-anchor="end">50.0</text>
<text class="tk" x="41.6" y="496.0" text-anchor="end">49.8</text>
<text class="tk" x="41.6" y="676.0" text-anchor="end">49.6</text>
<text class="tk" x="41.6" y="856.0" text-anchor="end">49.4</text>
<text transform="translate(220.0,32.0) scale(1.036,1)" font-size="30.2px">19.01.2026 00:40 - 00:44 UTC</text>
<g shape-rendering="crispEdges">
<rect x="911.5" y="866.54" width="40.0" height="29.46" fill="#6478a8"/>
<rect x="911.5" y="837.57" width="40.0" height="29.46" fill="#556aa4"/>
<rect x="911.5" y="808.61" width="40.0" height="29.46" fill="#4560a2"/>
<rect x="911.5" y="779.64" width="40.0" height="29.46" fill="#4b7bb3"/>
<rect x="911.5" y="750.68" width="40.0" height="29.46" fill="#5aa0c8"/>
<rect x="911.5" y="721.71" width="40.0" height="29.46" fill="#64c3dc"/>
<rect x="911.5" y="692.75" width="40.0" height="29.46" fill="#64d7c3"/>
<rect x="911.5" y="663.79" width="40.0" height="29.46" fill="#3cd670"/>
<rect x="911.5" y="634.82" width="40.0" height="29.46" fill="#14c81e"/>
<rect x="911.5" y="605.86" width="40.0" height="29.46" fill="#12b41c"/>
<rect x="911.5" y="576.89" width="40.0" height="29.46" fill="#10a01a"/>
<rect x="911.5" y="547.93" width="40.0" height="29.46" fill="#0e8c18"/>
<rect x="911.5" y="518.96" width="40.0" height="29.46" fill="#0c7814"/>
<rect x="911.5" y="490.00" width="40.0" height="29.46" fill="#0a6410"/>
<rect x="911.5" y="461.04" width="40.0" height="29.46" fill="#467a0a"/>
<rect x="911.5" y="432.07" width="40.0" height="29.46" fill="#aaaf0a"/>
<rect x="911.5" y="403.11" width="40.0" height="29.46" fill="#ffdc00"/>
<rect x="911.5" y="374.14" width="40.0" height="29.46" fill="#ffb400"/>
<rect x="911.5" y="345.18" width="40.0" height="29.46" fill="#ff9b00"/>
<rect x="911.5" y="316.21" width="40.0" height="29.46" fill="#ff8200"/>
<rect x="911.5" y="287.25" width="40.0" height="29.46" fill="#e60000"/>
<rect x="911.5" y="258.29" width="40.0" height="29.46" fill="#c00000"/>
<rect x="911.5" y="229.32" width="40.0" height="29.46" fill="#a00000"/>
<rect x="911.5" y="200.36" width="40.0" height="29.46" fill="#800000"/>
<rect x="911.5" y="171.39" width="40.0" height="29.46" fill="#ffdcff"/>
<rect x="911.5" y="142.43" width="40.0" height="29.46" fill="#ffb4ff"/>
<rect x="911.5" y="113.46" width="40.0" height="29.46" fill="#ff6ef5"/>
<rect x="911.5" y="84.50" width="40.0" height="29.46" fill="#f032e6"/>
</g>
<rect x="911.5" y="84.5" width="40.0" height="811.0" fill="none" stroke="#000" stroke-width="1.1"/>
<path d="M951.5,895.5 h4.2" stroke="#000" stroke-width="1"/>
<text class="cb" transform="translate(960.0,904.9) scale(1.05,1)">0</text>
<path d="M951.5,779.5 h4.2" stroke="#000" stroke-width="1"/>
<text class="cb" transform="translate(960.0,788.9) scale(1.05,1)">10</text>
<path d="M951.5,663.5 h4.2" stroke="#000" stroke-width="1"/>
<text class="cb" transform="translate(960.0,672.9) scale(1.05,1)">20</text>
<path d="M951.5,547.5 h4.2" stroke="#000" stroke-width="1"/>
<text class="cb" transform="translate(960.0,556.9) scale(1.05,1)">30</text>
<path d="M951.5,432.5 h4.2" stroke="#000" stroke-width="1"/>
<text class="cb" transform="translate(960.0,441.9) scale(1.05,1)">40</text>
<path d="M951.5,316.5 h4.2" stroke="#000" stroke-width="1"/>
<text class="cb" transform="translate(960.0,325.9) scale(1.05,1)">50</text>
<path d="M951.5,200.5 h4.2" stroke="#000" stroke-width="1"/>
<text class="cb" transform="translate(960.0,209.8) scale(1.05,1)">60</text>
<path d="M951.5,84.5 h4.2" stroke="#000" stroke-width="1"/>
<text class="cb" transform="translate(960.0,93.8) scale(1.05,1)">70</text>
<text font-size="24px" text-anchor="middle" transform="translate(1016.4,492.2) rotate(-90)">dBZ</text>
</svg></body></html>
